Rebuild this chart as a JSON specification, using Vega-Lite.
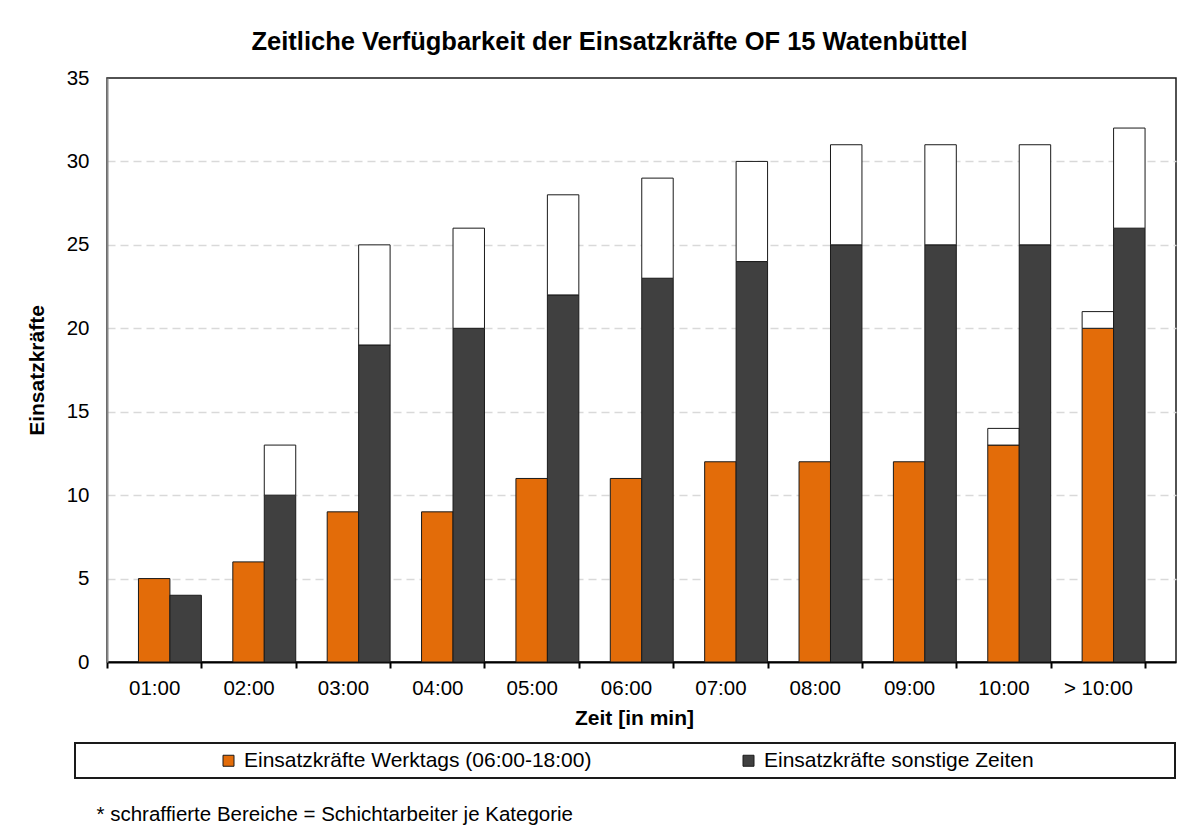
{
  "$schema": "https://vega.github.io/schema/vega-lite/v6.json",
  "width": 1069,
  "height": 584,
  "autosize": {"type": "none"},
  "padding": {"left": 107, "top": 78, "right": 28, "bottom": 169},
  "background": "white",
  "config": {
    "font": "Liberation Sans",
    "view": {"stroke": "#1a1a1a", "strokeWidth": 1.5},
    "legend": {"strokeWidth": 2}
  },
  "title": {
    "text": "Zeitliche Verfügbarkeit der Einsatzkräfte OF 15 Watenbüttel",
    "font": "Liberation Sans",
    "fontSize": 25.5,
    "fontWeight": "bold",
    "color": "black",
    "anchor": "middle",
    "frame": "group",
    "dx": -32,
    "offset": -7,
    "baseline": "alphabetic"
  },
  "data": {
    "values": [
      {"zeit": "01:00", "gruppe": "Einsatzkräfte Werktags (06:00-18:00)", "teil": "Basis", "wert": 5},
      {"zeit": "01:00", "gruppe": "Einsatzkräfte sonstige Zeiten", "teil": "Basis", "wert": 4},
      {"zeit": "02:00", "gruppe": "Einsatzkräfte Werktags (06:00-18:00)", "teil": "Basis", "wert": 6},
      {"zeit": "02:00", "gruppe": "Einsatzkräfte sonstige Zeiten", "teil": "Basis", "wert": 10},
      {"zeit": "02:00", "gruppe": "Einsatzkräfte sonstige Zeiten", "teil": "Schicht", "wert": 3},
      {"zeit": "03:00", "gruppe": "Einsatzkräfte Werktags (06:00-18:00)", "teil": "Basis", "wert": 9},
      {"zeit": "03:00", "gruppe": "Einsatzkräfte sonstige Zeiten", "teil": "Basis", "wert": 19},
      {"zeit": "03:00", "gruppe": "Einsatzkräfte sonstige Zeiten", "teil": "Schicht", "wert": 6},
      {"zeit": "04:00", "gruppe": "Einsatzkräfte Werktags (06:00-18:00)", "teil": "Basis", "wert": 9},
      {"zeit": "04:00", "gruppe": "Einsatzkräfte sonstige Zeiten", "teil": "Basis", "wert": 20},
      {"zeit": "04:00", "gruppe": "Einsatzkräfte sonstige Zeiten", "teil": "Schicht", "wert": 6},
      {"zeit": "05:00", "gruppe": "Einsatzkräfte Werktags (06:00-18:00)", "teil": "Basis", "wert": 11},
      {"zeit": "05:00", "gruppe": "Einsatzkräfte sonstige Zeiten", "teil": "Basis", "wert": 22},
      {"zeit": "05:00", "gruppe": "Einsatzkräfte sonstige Zeiten", "teil": "Schicht", "wert": 6},
      {"zeit": "06:00", "gruppe": "Einsatzkräfte Werktags (06:00-18:00)", "teil": "Basis", "wert": 11},
      {"zeit": "06:00", "gruppe": "Einsatzkräfte sonstige Zeiten", "teil": "Basis", "wert": 23},
      {"zeit": "06:00", "gruppe": "Einsatzkräfte sonstige Zeiten", "teil": "Schicht", "wert": 6},
      {"zeit": "07:00", "gruppe": "Einsatzkräfte Werktags (06:00-18:00)", "teil": "Basis", "wert": 12},
      {"zeit": "07:00", "gruppe": "Einsatzkräfte sonstige Zeiten", "teil": "Basis", "wert": 24},
      {"zeit": "07:00", "gruppe": "Einsatzkräfte sonstige Zeiten", "teil": "Schicht", "wert": 6},
      {"zeit": "08:00", "gruppe": "Einsatzkräfte Werktags (06:00-18:00)", "teil": "Basis", "wert": 12},
      {"zeit": "08:00", "gruppe": "Einsatzkräfte sonstige Zeiten", "teil": "Basis", "wert": 25},
      {"zeit": "08:00", "gruppe": "Einsatzkräfte sonstige Zeiten", "teil": "Schicht", "wert": 6},
      {"zeit": "09:00", "gruppe": "Einsatzkräfte Werktags (06:00-18:00)", "teil": "Basis", "wert": 12},
      {"zeit": "09:00", "gruppe": "Einsatzkräfte sonstige Zeiten", "teil": "Basis", "wert": 25},
      {"zeit": "09:00", "gruppe": "Einsatzkräfte sonstige Zeiten", "teil": "Schicht", "wert": 6},
      {"zeit": "10:00", "gruppe": "Einsatzkräfte Werktags (06:00-18:00)", "teil": "Basis", "wert": 13},
      {"zeit": "10:00", "gruppe": "Einsatzkräfte Werktags (06:00-18:00)", "teil": "Schicht", "wert": 1},
      {"zeit": "10:00", "gruppe": "Einsatzkräfte sonstige Zeiten", "teil": "Basis", "wert": 25},
      {"zeit": "10:00", "gruppe": "Einsatzkräfte sonstige Zeiten", "teil": "Schicht", "wert": 6},
      {"zeit": "> 10:00", "gruppe": "Einsatzkräfte Werktags (06:00-18:00)", "teil": "Basis", "wert": 20},
      {"zeit": "> 10:00", "gruppe": "Einsatzkräfte Werktags (06:00-18:00)", "teil": "Schicht", "wert": 1},
      {"zeit": "> 10:00", "gruppe": "Einsatzkräfte sonstige Zeiten", "teil": "Basis", "wert": 26},
      {"zeit": "> 10:00", "gruppe": "Einsatzkräfte sonstige Zeiten", "teil": "Schicht", "wert": 6}
    ]
  },
  "mark": {"type": "bar", "stroke": "#1a1a1a", "strokeWidth": 1},
  "encoding": {
    "x": {
      "field": "zeit",
      "type": "nominal",
      "sort": ["01:00", "02:00", "03:00", "04:00", "05:00", "06:00", "07:00", "08:00", "09:00", "10:00", "> 10:00"],
      "scale": {"paddingInner": 0, "paddingOuter": 0.164, "align": 0},
      "axis": {
        "title": "Zeit [in min]",
        "titleFontSize": 21,
        "titleFontWeight": "bold",
        "titleColor": "black",
        "titlePadding": 9,
        "titleX": 527,
        "labelAngle": 0,
        "labelFontSize": 20.5,
        "labelColor": "black",
        "labelPadding": 10,
        "tickBand": "extent",
        "ticks": true,
        "tickSize": 6,
        "tickWidth": 2,
        "tickColor": "black",
        "domainColor": "black",
        "domainWidth": 2,
        "grid": false
      }
    },
    "xOffset": {
      "field": "gruppe",
      "type": "nominal",
      "sort": ["Einsatzkräfte Werktags (06:00-18:00)", "Einsatzkräfte sonstige Zeiten"],
      "scale": {"paddingInner": 0, "paddingOuter": 0.5, "align": 1}
    },
    "y": {
      "field": "wert",
      "type": "quantitative",
      "stack": "zero",
      "scale": {"domain": [0, 35], "nice": false},
      "axis": {
        "title": "Einsatzkräfte",
        "titleFontSize": 21,
        "titleFontWeight": "bold",
        "titleColor": "black",
        "titlePadding": 19,
        "values": [0, 5, 10, 15, 20, 25, 30, 35],
        "ticks": false,
        "labelPadding": 18,
        "labelFontSize": 20.5,
        "labelColor": "black",
        "domainColor": "#868686",
        "domainWidth": 2,
        "grid": true,
        "gridColor": "#d9d9d9",
        "gridWidth": 1.5,
        "gridDash": [8, 5],
        "gridOpacity": {"condition": {"test": "datum.value == 0 || datum.value == 35", "value": 0}, "value": 1}
      }
    },
    "order": {"field": "teil"},
    "fill": {
      "condition": {"test": "datum.teil === 'Schicht'", "value": "white"},
      "field": "gruppe",
      "type": "nominal",
      "scale": {
        "domain": ["Einsatzkräfte Werktags (06:00-18:00)", "Einsatzkräfte sonstige Zeiten"],
        "range": ["#E36C09", "#404040"]
      },
      "legend": {
        "orient": "none",
        "legendX": -32,
        "legendY": 665,
        "direction": "horizontal",
        "columns": 2,
        "title": "\u00a0",
        "titleOrient": "left",
        "titleFontSize": 1,
        "titlePadding": 136,
        "padding": 7,
        "strokeColor": "#1a1a1a",
        "symbolType": "square",
        "symbolSize": 121,
        "symbolStrokeColor": "#1a1a1a",
        "symbolStrokeWidth": 1,
        "labelFontSize": 21,
        "labelColor": "black",
        "labelOffset": 5,
        "labelLimit": 0,
        "columnPadding": 146,
        "labelExpr": "datum.label == 'Einsatzkräfte sonstige Zeiten' ? datum.label + '\u00a0\u00a0\u00a0\u00a0\u00a0\u00a0\u00a0\u00a0\u00a0\u00a0\u00a0\u00a0\u00a0\u00a0\u00a0\u00a0\u00a0\u00a0\u00a0\u00a0\u00a0\u00a0\u00a0\u200b' : datum.label"
      }
    },
    "stroke": {
      "datum": "* schraffierte Bereiche = Schichtarbeiter je Kategorie",
      "type": "nominal",
      "scale": {"range": ["#1a1a1a"]},
      "legend": {
        "orient": "none",
        "legendX": -31,
        "legendY": 727,
        "title": null,
        "padding": 0,
        "symbolOpacity": 0,
        "symbolSize": 1,
        "symbolStrokeWidth": 0,
        "labelOffset": 0,
        "labelFontSize": 20.5,
        "labelColor": "black",
        "labelLimit": 0
      }
    }
  }
}
